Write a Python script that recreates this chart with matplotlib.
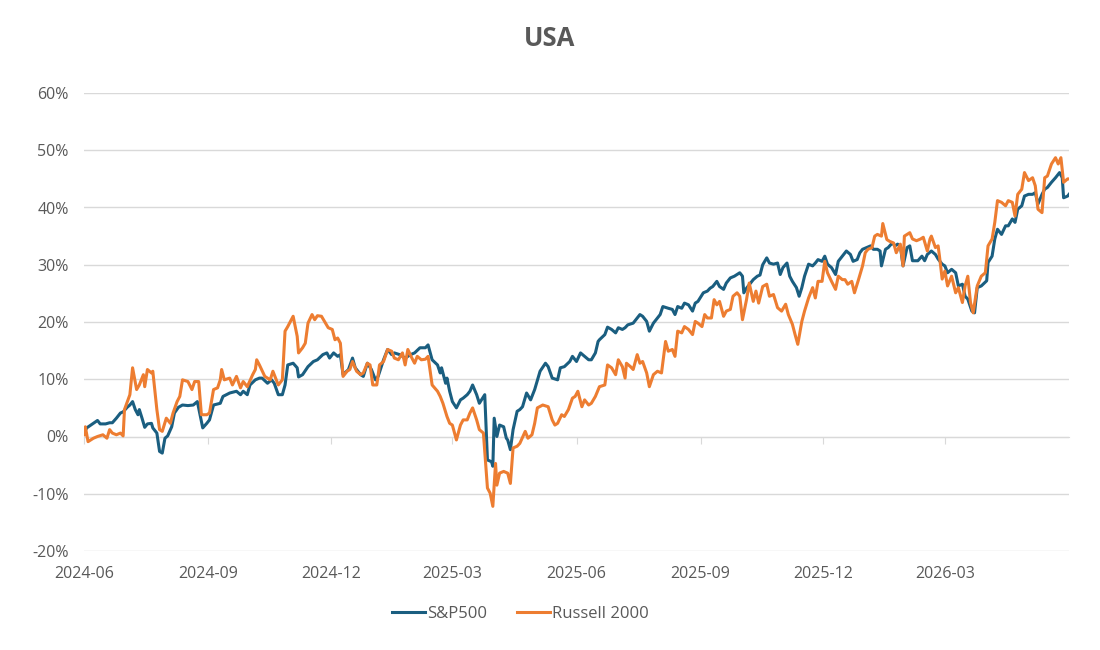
import pandas as pd
import matplotlib.pyplot as plt
from matplotlib.ticker import FuncFormatter

# cumulative return (%), sampled from the chart; days counted from 2024-06-01
start = pd.Timestamp('2024-06-01')

spx_days = [0, 2, 7, 10, 12, 16, 19, 21, 24, 27, 29, 32, 34, 36, 38, 40, 41, 43, 45, 47,
            50, 51, 54, 56, 58, 60, 62, 65, 67, 70, 73, 77, 81, 84, 86, 88, 91, 93, 96, 101,
            103, 108, 113, 116, 118, 121, 123, 127, 130,
            132, 136, 139, 141, 144, 147, 149, 151, 155, 158, 159, 162, 166, 170, 173, 177, 180, 182, 185, 188,
            190, 192, 196, 199, 201, 205, 207, 210, 213, 216, 218, 222, 225, 228, 230, 234, 238, 242, 245, 249,
            253, 255,
            258, 262, 264, 265, 268, 269, 271, 273, 276, 279, 281, 284, 286, 288, 291, 293, 297, 299, 302, 303,
            304, 306, 308, 311, 313, 314, 316, 318, 321, 323, 325, 328, 331, 334, 338, 342, 344, 347, 351, 353,
            356, 360, 362, 365, 368, 371, 374, 376, 379, 381,
            382, 386, 388, 391, 394, 396, 399, 401, 403, 407, 410, 412, 414, 417, 419, 422, 425, 427, 429, 433,
            436, 438, 440, 443, 445, 448, 451, 453, 455, 459, 462, 464, 466, 469, 471, 474, 476, 479, 482, 486,
            488, 489, 491, 494, 496, 499, 501, 503, 506, 508,
            511, 514, 516, 518, 521, 523, 525, 528, 530, 532, 534, 537, 540, 542, 544, 547, 549, 551, 554, 557,
            559, 562, 565, 568, 570, 573, 575, 577, 580, 583, 585, 588, 590, 591, 594, 596, 599, 601, 603, 605,
            607, 610, 612,
            614, 618, 621, 623, 625, 628, 631, 633, 636, 638, 640, 643, 646, 648, 651, 653, 655, 658, 660, 662,
            665, 669, 670, 673, 675, 677, 680, 683, 685, 688, 690, 692, 695, 697, 700, 703, 705, 707, 710, 712,
            714, 717, 720, 723, 725, 726, 729, 730]
spx_vals = [0.6, 1.5, 2.3, 2.8, 2.2, 2.2, 2.4, 2.4, 3.2, 4.1, 4.3, 5.1, 5.5, 6.1, 4.7, 3.8, 4.7, 3.2, 1.6, 2.2,
            2.3, 1.5, 0.6, -2.6, -2.9, -0.3, 0.1, 1.7, 4.1, 5.1, 5.5, 5.4, 5.5, 6.1, 3.8, 1.5, 2.3, 2.9, 5.5, 5.8,
            7.0, 7.6, 7.9, 7.3, 7.9, 7.3, 9.0, 9.9, 10.2,
            10.2, 9.3, 9.9, 9.3, 7.3, 7.3, 9.0, 12.5, 12.8, 12.0, 10.4, 10.8, 12.2, 13.1, 13.4, 14.3, 14.6, 13.7, 14.6, 14.0,
            14.3, 10.8, 11.7, 13.7, 12.0, 10.8, 10.5, 12.8, 11.7, 9.9, 10.5, 13.4, 15.2, 14.3, 14.6, 14.3, 13.7, 14.3, 14.6, 15.5,
            15.5, 16.0,
            13.4, 12.5, 11.1, 12.0, 9.3, 10.2, 7.9, 6.1, 5.0, 6.4, 6.7, 7.3, 7.9, 9.0, 7.3, 5.8, 7.3, -4.1, -4.4, -5.2,
            3.2, 0.0, 2.0, 1.7, -0.3, -0.6, -2.3, 1.2, 4.4, 4.7, 5.2, 7.6, 6.4, 8.2, 11.4, 12.8, 12.2, 10.2, 9.9, 12.0,
            12.2, 13.1, 14.0, 13.1, 14.6, 14.0, 13.4, 13.4, 14.6, 16.6,
            16.9, 17.8, 19.1, 18.7, 18.1, 19.0, 18.7, 19.0, 19.5, 19.8, 20.7, 21.3, 21.0, 20.1, 18.4, 19.8, 20.7, 21.3, 22.7, 22.4,
            22.2, 21.3, 22.7, 22.4, 23.3, 23.0, 21.9, 23.3, 23.6, 25.1, 25.4, 25.9, 26.2, 27.1, 26.2, 25.7, 26.8, 27.7, 28.0, 28.6,
            28.0, 25.1, 25.9, 26.8, 27.4, 28.0, 28.2, 30.0, 31.2, 30.3,
            30.1, 30.3, 28.3, 29.5, 30.3, 28.0, 27.1, 26.0, 24.5, 26.0, 28.0, 30.1, 29.8, 30.3, 30.9, 30.6, 31.5, 30.1, 29.5, 28.3,
            30.6, 31.5, 32.4, 31.8, 30.6, 30.9, 32.1, 32.7, 33.0, 33.3, 32.7, 32.7, 32.4, 29.8, 32.7, 33.0, 33.8, 33.3, 33.6, 33.3,
            29.8, 33.0, 33.3,
            30.7, 30.7, 31.5, 30.7, 31.8, 32.4, 31.8, 31.0, 30.1, 29.8, 28.6, 29.2, 28.6, 26.3, 26.6, 24.5, 24.0, 21.9, 21.6, 26.0,
            26.3, 27.2, 30.4, 31.5, 34.5, 36.2, 35.3, 36.8, 36.8, 38.0, 37.4, 39.7, 40.3, 42.0, 42.3, 42.3, 42.6, 40.6, 42.3, 43.2,
            43.5, 44.4, 45.2, 46.1, 45.2, 41.7, 42.0, 42.3]

r2k_days = [0, 1, 3, 7, 10, 14, 17, 19, 21, 24, 27, 29, 30, 34, 36, 39, 41, 44, 45, 47,
            50, 51, 54, 56, 58, 61, 64, 66, 69, 71, 73, 77, 80, 82, 85, 87, 91, 93, 96, 99,
            101, 102, 104, 108, 110, 113, 116, 118, 121, 125, 127, 128, 130,
            134, 138, 140, 144, 147, 149, 151, 155, 158, 159, 162, 164, 166, 169, 171, 173, 176, 179, 181, 184,
            186, 188, 190, 192, 195, 197, 199, 202, 205, 207, 210, 212, 214, 217, 219, 222, 225, 228, 230, 233,
            236, 238, 240, 243, 245, 247, 250,
            253, 255, 258, 262, 264, 266, 269, 271, 273, 276, 279, 281, 284, 286, 288, 291, 293, 296, 299, 301,
            303, 305, 306, 308, 311, 314, 316, 318, 321, 323, 327, 329, 332, 334, 336, 340, 344, 347, 349, 351,
            354, 356, 359, 362, 364, 366, 369, 371, 374, 376, 379,
            382, 386, 388, 391, 394, 396, 399, 401, 402, 405, 407, 410, 412, 414, 417, 419, 422, 425, 428, 431,
            433, 436, 438, 440, 443, 445, 448, 451, 453, 455, 458, 460, 462, 465, 467, 469, 471, 474, 476, 479,
            481, 484, 486, 488, 491, 493, 496, 498, 500, 503, 506, 508,
            511, 514, 517, 520, 522, 525, 527, 529, 532, 534, 537, 540, 542, 544, 547, 549, 551, 554, 557, 559,
            562, 564, 566, 569, 571, 574, 577, 579, 581, 584, 586, 588, 591, 592, 595, 597, 600, 602, 605, 607,
            608,
            612, 614, 617, 620, 622, 625, 627, 628, 631, 633, 634, 636, 638, 640, 643, 646, 648, 651, 653, 655,
            657, 659, 662, 665, 668, 670, 673, 675, 677, 680, 683, 685, 688, 690, 692, 695, 697, 700, 703, 705,
            707, 710, 712, 714, 717, 720, 722, 724, 726, 729, 730]
r2k_vals = [0.3, 1.7, -0.9, -0.3, 0.0, 0.3, -0.3, 1.2, 0.6, 0.3, 0.6, 0.1, 4.7, 7.3, 12.0, 8.2, 9.0, 10.8, 8.7, 11.7,
            11.1, 11.4, 4.7, 1.2, 0.9, 3.2, 2.3, 4.1, 6.1, 7.0, 9.9, 9.6, 8.2, 9.6, 9.6, 3.8, 3.8, 4.1, 8.2, 8.5,
            9.9, 11.7, 9.9, 10.2, 9.0, 10.5, 8.5, 9.6, 8.7, 10.8, 11.7, 13.4, 12.5,
            10.5, 9.9, 11.4, 9.0, 9.9, 18.4, 19.2, 21.0, 17.5, 14.6, 15.5, 16.3, 19.8, 21.3, 20.4, 21.1, 21.0, 19.8, 19.0, 18.7,
            16.9, 17.2, 16.3, 10.5, 11.4, 11.7, 13.1, 11.4, 10.8, 11.1, 12.8, 12.5, 9.0, 9.0, 12.5, 13.1, 15.2, 14.9, 13.7, 13.4,
            14.6, 12.5, 15.2, 13.7, 12.8, 14.0, 13.4,
            13.5, 14.0, 9.0, 7.9, 7.0, 5.8, 3.5, 2.3, 2.0, -0.6, 2.0, 2.9, 2.9, 4.1, 5.0, 2.9, 1.2, 0.6, -9.0, -9.9,
            -12.2, -4.7, -8.5, -6.4, -6.1, -6.4, -8.2, -2.0, -1.7, -1.2, 0.9, -0.3, 0.3, 2.3, 5.0, 5.5, 5.2, 2.9, 2.0, 2.3,
            3.8, 3.5, 4.7, 6.7, 7.0, 7.9, 5.2, 6.4, 5.5, 5.8, 7.0,
            8.7, 9.0, 12.5, 12.0, 10.8, 13.4, 12.2, 10.2, 12.8, 12.2, 11.7, 14.3, 12.8, 13.1, 11.1, 8.7, 10.8, 11.4, 11.1, 16.6,
            14.9, 15.2, 14.0, 18.4, 18.1, 19.2, 18.7, 17.8, 20.1, 19.8, 19.2, 21.3, 20.7, 20.7, 23.9, 23.0, 23.6, 21.0, 21.9, 22.2,
            24.5, 25.1, 24.5, 20.4, 23.9, 26.8, 23.6, 25.4, 23.3, 26.2, 26.6, 24.5,
            24.8, 22.5, 21.9, 23.1, 21.3, 19.6, 17.8, 16.1, 20.1, 21.9, 24.2, 26.0, 24.2, 27.1, 27.1, 30.6, 28.6, 27.1, 25.7, 28.0,
            27.4, 27.4, 26.6, 27.1, 25.1, 27.4, 29.8, 32.1, 32.7, 33.0, 35.0, 35.3, 35.0, 37.2, 34.4, 34.1, 33.8, 32.1, 33.6, 29.8,
            35.0,
            35.6, 34.5, 34.2, 34.5, 34.8, 32.4, 34.5, 35.0, 33.0, 33.3, 31.5, 27.5, 28.9, 26.3, 28.0, 25.1, 26.0, 23.4, 26.3, 28.0,
            23.4, 21.6, 26.3, 28.0, 28.6, 33.3, 34.5, 37.4, 41.2, 40.9, 40.3, 41.2, 40.9, 38.5, 42.3, 43.2, 46.1, 44.7, 45.2, 43.8,
            39.7, 39.1, 45.2, 45.5, 47.6, 48.7, 47.6, 48.7, 44.4, 45.0, 45.0]

tick_labels = ['2024-06', '2024-09', '2024-12', '2025-03', '2025-06', '2025-09', '2025-12', '2026-03']

plt.rcParams['font.family'] = ['Open Sans', 'DejaVu Sans']
text_col = '#595959'
grid_col = '#d9d9d9'

fig = plt.figure(figsize=(11, 6.5), dpi=100)
ax = fig.add_axes([84 / 1100, 1 - 551 / 650, 985 / 1100, 458 / 650])

spx_dates = start + pd.to_timedelta(spx_days, unit='D')
r2k_dates = start + pd.to_timedelta(r2k_days, unit='D')
ax.plot(spx_dates, spx_vals, color='#1a5e80', lw=2.2, label='S&P500')
ax.plot(r2k_dates, r2k_vals, color='#ed7d31', lw=2.2, label='Russell 2000')

ax.set_ylim(-20, 60)
ax.set_yticks(range(-20, 61, 10))
ax.yaxis.set_major_formatter(FuncFormatter(lambda v, p: f'{v:.0f}%'))
ax.set_xlim(start, start + pd.Timedelta(days=730))
tick_dates = pd.to_datetime([t + '-01' for t in tick_labels])
ax.set_xticks(tick_dates)
ax.set_xticklabels(tick_labels)

ax.grid(axis='y', color=grid_col, lw=1)
ax.grid(axis='x', visible=False)
ax.set_axisbelow(True)
for s in ax.spines.values():
    s.set_visible(False)
ax.tick_params(length=0, colors=text_col, labelsize=11.5)
ax.tick_params(axis='y', pad=11)
ax.tick_params(axis='x', pad=11)

# axis line crosses at 0%, with small tick marks
zero_axis = ax.secondary_xaxis(0.25)
zero_axis.set_alignment('bottom')
zero_axis.set_xticks(tick_dates)
zero_axis.tick_params(direction='out', length=5, color=grid_col, labelbottom=False, labeltop=False)
zero_axis.spines['bottom'].set_color(grid_col)

fig.text(0.5, 1 - 38 / 650, 'USA', ha='center', va='center', fontsize=18.5,
         fontweight='bold', color=text_col)
fig.legend(loc='center', bbox_to_anchor=(520 / 1100, 1 - 614 / 650), ncol=2, frameon=False,
           fontsize=12, handlelength=2.0, handletextpad=0.1, columnspacing=1.8,
           labelcolor=text_col)

fig.savefig('out.png', dpi=100)
